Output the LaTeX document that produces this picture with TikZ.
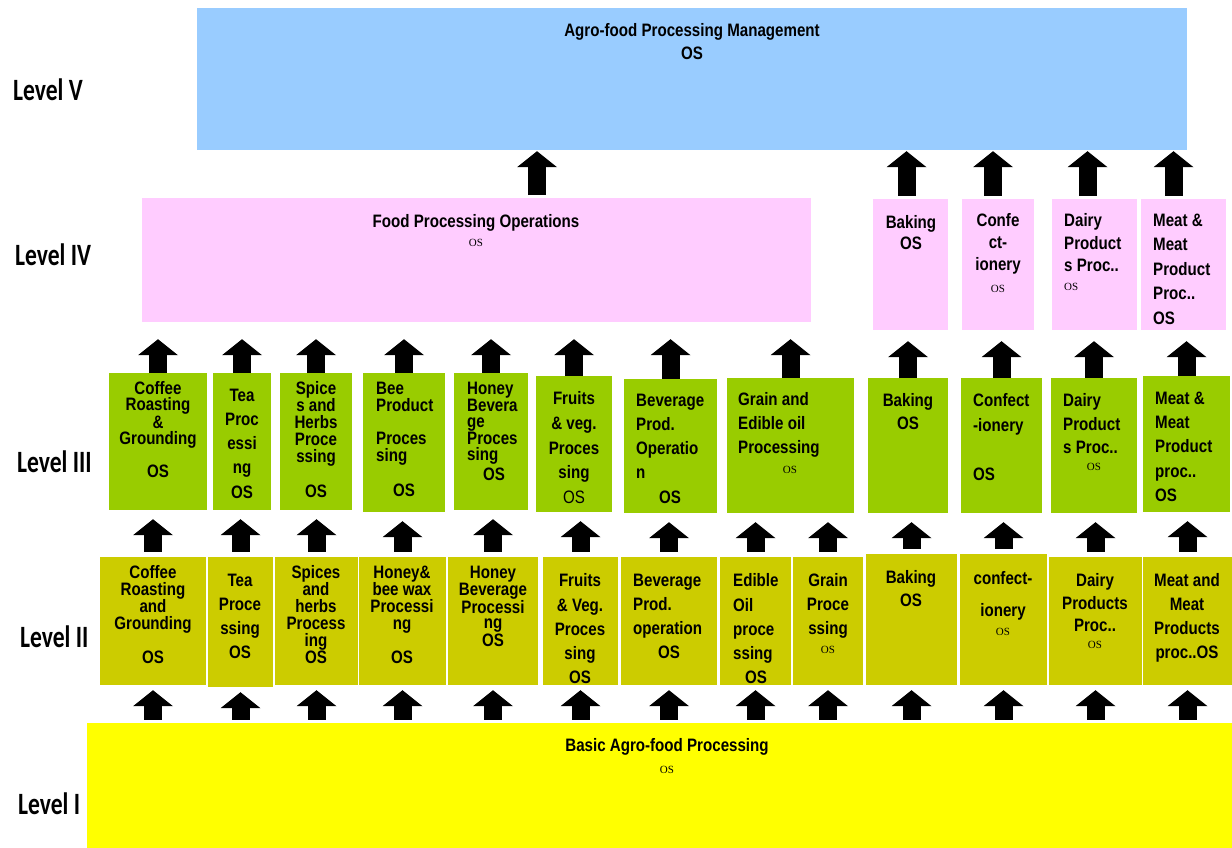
\documentclass[tikz,border=0pt]{standalone}
\usepackage{fontspec}
\usetikzlibrary{arrows.meta,fit,positioning}
\newfontfamily\boxfont{Liberation Sans}[FakeStretch=0.84]
\newfontfamily\lvlfont{Carlito}[FakeStretch=0.76]
\newfontfamily\osfont{Liberation Serif}
\newcommand{\smallos}{{\osfont\mdseries\fontsize{11}{11}\selectfont OS}}
\definecolor{LvFive}{HTML}{99CCFF}
\definecolor{LvFour}{HTML}{FFCCFF}
\definecolor{LvThree}{HTML}{99CC00}
\definecolor{LvTwo}{HTML}{CCCC00}
\definecolor{LvOne}{HTML}{FFFF00}

\begin{document}
\begin{tikzpicture}[
    x=1pt,y=-1pt,
    box/.style={inner sep=0pt,draw=none},
    lvfive/.style={box,fill=LvFive},
    lvfour/.style={box,fill=LvFour},
    lvthree/.style={box,fill=LvThree},
    lvtwo/.style={box,fill=LvTwo},
    lvone/.style={box,fill=LvOne},
    txt/.style={inner sep=0pt,align=center,font=\boxfont\bfseries\fontsize{18}{#1}\selectfont},
    txt/.default=24,
    lvl/.style={inner sep=0pt,anchor=west,font=\lvlfont\bfseries\fontsize{31}{31}\selectfont},
    blockarrow/.style={line width=18pt,-{Triangle[length=16pt,width=40pt,line width=0pt]},black}
  ]
  \useasboundingbox (0,0) rectangle (1232,848);

  % level names
  \node[lvl] (lv5) at (13,90) {Level V};
  \node[lvl] (lv4) at (15,255) {Level IV};
  \node[lvl] (lv3) at (17,462) {Level III};
  \node[lvl] (lv2) at (20,637) {Level II};
  \node[lvl] (lv1) at (18,804) {Level I};

  % level V
  \node[lvfive,fit={(197,8)(1187,150)}] (mgmt) {};
  \node[txt=23,anchor=north] (mgmtt) at (692,23.5) {Agro-food Processing Management\\OS};

  % level IV
  \node[lvfour,fit={(142,198)(811,322)}] (fpo) {};
  \node[lvfour,fit={(873,199)(948,330)}] (bake4) {};
  \node[lvfour,fit={(962,199)(1034,330)}] (conf4) {};
  \node[lvfour,fit={(1052,199)(1137,330)}] (dairy4) {};
  \node[lvfour,fit={(1141,199)(1226,330)}] (meat4) {};
  \node[txt=19,anchor=north] (fpot) at (476,214.5) {Food Processing Operations\\\smallos};
  \node[txt=21,anchor=north] (bake4t) at (911,215.5) {Baking\\OS};
  \node[txt=22,anchor=north] (conf4t) at (998,213.5) {Confe\\ct-\\ionery\\\smallos};
  \node[txt=22.5,align=left,anchor=north west] (dairy4t) at (1064,213.5) {Dairy\\Product\\s Proc..\\[-3.5pt]\smallos};
  \node[txt=24.5,align=left,anchor=north west] (meat4t) at (1153,213.5) {Meat \&\\Meat\\Product\\Proc..\\OS};

  % level III
  \node[lvthree,fit={(109,373)(207,510)}] (coffee3) {};
  \node[lvthree,fit={(213,373)(271,510)}] (tea3) {};
  \node[lvthree,fit={(280,373)(352,510)}] (spice3) {};
  \node[lvthree,fit={(363,373)(445,512)}] (bee3) {};
  \node[lvthree,fit={(454,373)(528,510)}] (honey3) {};
  \node[lvthree,fit={(536,376)(612,512)}] (fruit3) {};
  \node[lvthree,fit={(624,379)(717,513)}] (bev3) {};
  \node[lvthree,fit={(727,378)(854,513)}] (grain3) {};
  \node[lvthree,fit={(868,378)(948,513)}] (bake3) {};
  \node[lvthree,fit={(961,378)(1042,513)}] (conf3) {};
  \node[lvthree,fit={(1051,378)(1137,513)}] (dairy3) {};
  \node[lvthree,fit={(1143,376)(1230,512)}] (meat3) {};
  \node[txt=16,anchor=north] (coffee3t) at (158,381.5) {Coffee\\Roasting\\\&\\Grounding\\[16pt]OS};
  \node[txt=24.3,anchor=north] (tea3t) at (242,388.5) {Tea\\Proc\\essi\\ng\\OS};
  \node[txt=17,anchor=north] (spice3t) at (316,381.5) {Spice\\s and\\Herbs\\Proce\\ssing\\[18pt]OS};
  \node[txt=17,align=left,anchor=north west] (bee3t) at (376,381.5) {Bee\\Product\\[16pt]Proces\\sing};
  \node[txt] (bee3os) at (404,490) {OS};
  \node[txt=16,align=left,anchor=north west] (honey3t) at (467,381.5) {Honey\\Bevera\\ge\\Proces\\sing};
  \node[txt] (honey3os) at (494,474) {OS};
  \node[txt=24.7,anchor=north] (fruit3t) at (574,391.5) {Fruits\\\& veg.\\Proces\\sing\\{\mdseries OS}};
  \node[txt=24.3,align=left,anchor=north west] (bev3t) at (636,393.5) {Beverage\\Prod.\\Operatio\\n};
  \node[txt] (bev3os) at (670,497) {OS};
  \node[txt=24,align=left,anchor=north west] (grain3t) at (738,392.5) {Grain and\\Edible oil\\Processing};
  \node[inner sep=0pt] (grain3os) at (790,470) {\smallos};
  \node[txt=23,anchor=north] (bake3t) at (908,393.5) {Baking\\OS};
  \node[txt=24.5,align=left,anchor=north west] (conf3t) at (973,393.5) {Confect\\-ionery\\[24.5pt]OS};
  \node[txt=23.5,align=left,anchor=north west] (dairy3t) at (1063,393.5) {Dairy\\Product\\s Proc..};
  \node[inner sep=0pt] (dairy3os) at (1094,467) {\smallos};
  \node[txt=24.3,align=left,anchor=north west] (meat3t) at (1155,391.5) {Meat \&\\Meat\\Product\\proc..\\OS};

  % level II
  \node[lvtwo,fit={(100,557)(206,685)}] (coffee2) {};
  \node[lvtwo,fit={(208,557)(273,687)}] (tea2) {};
  \node[lvtwo,fit={(275,557)(358,685)}] (spice2) {};
  \node[lvtwo,fit={(359,557)(446,685)}] (wax2) {};
  \node[lvtwo,fit={(448,557)(538,685)}] (honey2) {};
  \node[lvtwo,fit={(543,557)(618,685)}] (fruit2) {};
  \node[lvtwo,fit={(621,557)(717,685)}] (bev2) {};
  \node[lvtwo,fit={(720,557)(791,685)}] (oil2) {};
  \node[lvtwo,fit={(793,557)(863,685)}] (grain2) {};
  \node[lvtwo,fit={(866,554)(957,685)}] (bake2) {};
  \node[lvtwo,fit={(960,554)(1047,685)}] (conf2) {};
  \node[lvtwo,fit={(1049,557)(1142,685)}] (dairy2) {};
  \node[lvtwo,fit={(1143,557)(1232,685)}] (meat2) {};
  \node[txt=17,anchor=north] (coffee2t) at (153,565.5) {Coffee\\Roasting\\and\\Grounding\\[17pt]OS};
  \node[txt=24.3,anchor=north] (tea2t) at (240,573.5) {Tea\\Proce\\ssing\\OS};
  \node[txt=17,anchor=north] (spice2t) at (316,565.5) {Spices\\and\\herbs\\Process\\ing\\OS};
  \node[txt=17,anchor=north] (wax2t) at (402,565.5) {Honey\&\\bee wax\\Processi\\ng\\[17pt]OS};
  \node[txt=15.8,anchor=north] (honey2t) at (493,565.5) {Honey\\Beverage\\Processi\\ng\\OS};
  \node[txt=24.3,anchor=north] (fruit2t) at (580,573.5) {Fruits\\\& Veg.\\Proces\\sing\\OS};
  \node[txt=24,align=left,anchor=north west] (bev2t) at (633,573.5) {Beverage\\Prod.\\operation};
  \node[txt] (bev2os) at (669,652) {OS};
  \node[txt=24.3,align=left,anchor=north west] (oil2t) at (733,573.5) {Edible\\Oil\\proce\\ssing};
  \node[txt] (oil2os) at (756,677) {OS};
  \node[txt=24,anchor=north] (grain2t) at (828,573.5) {Grain\\Proce\\ssing\\[-5pt]\smallos};
  \node[txt=23,anchor=north] (bake2t) at (911,570.5) {Baking\\OS};
  \node[txt=32,anchor=north] (conf2t) at (1003,571.5) {confect-\\ionery\\[-13pt]\smallos};
  \node[txt=22.5,anchor=north] (dairy2t) at (1095,573.5) {Dairy\\Products\\Proc..\\[-5.5pt]\smallos};
  \node[txt=24,anchor=north] (meat2t) at (1187,573.5) {Meat and\\Meat\\Products\\proc..OS};

  % level I
  \node[lvone,fit={(87,723)(1232,848)}] (basic) {};
  \node[txt=22,anchor=north] (basict) at (667,738.5) {Basic Agro-food Processing\\\smallos};

  % arrows I -> II
  \foreach \b in {coffee2,tea2,spice2,wax2,honey2,fruit2,bev2,oil2,grain2,bake2,conf2,dairy2,meat2}
    \draw[blockarrow,shorten <=3pt,shorten >=5pt] (\b.south |- basic.north) -- (\b.south);
  % arrows II -> III
  \foreach \a/\b in {coffee2/coffee3,tea2/tea3,spice2/spice3,wax2/bee3,honey2/honey3,fruit2/fruit3,
      bev2/bev3,oil2/grain3,grain2/grain3,bake2/bake3,conf2/conf3,dairy2/dairy3,meat2/meat3}
    \draw[blockarrow,shorten <=5pt,shorten >=9pt] (\a.north) -- (\a.north |- \b.south);
  % arrows III -> IV
  \foreach \a in {coffee3,tea3,spice3,bee3,honey3,fruit3,bev3,grain3}
    \draw[blockarrow,shorten >=17pt] (\a.north) -- (\a.north |- fpo.south);
  \foreach \a/\b in {bake3/bake4,conf3/conf4,dairy3/dairy4,meat3/meat4}
    \draw[blockarrow,shorten >=11pt] (\a.north) -- (\a.north |- \b.south);
  % arrows IV -> V
  \coordinate (fpoout) at (537,198);
  \draw[blockarrow,shorten <=3pt,shorten >=1pt] (fpoout) -- (fpoout |- mgmt.south);
  \foreach \a/\s in {bake4/-4,conf4/-5,dairy4/-7,meat4/-10}
    \draw[blockarrow,shorten <=3pt,shorten >=1pt] ([xshift=\s pt]\a.north) -- ([xshift=\s pt]\a.north |- mgmt.south);
\end{tikzpicture}
\end{document}
